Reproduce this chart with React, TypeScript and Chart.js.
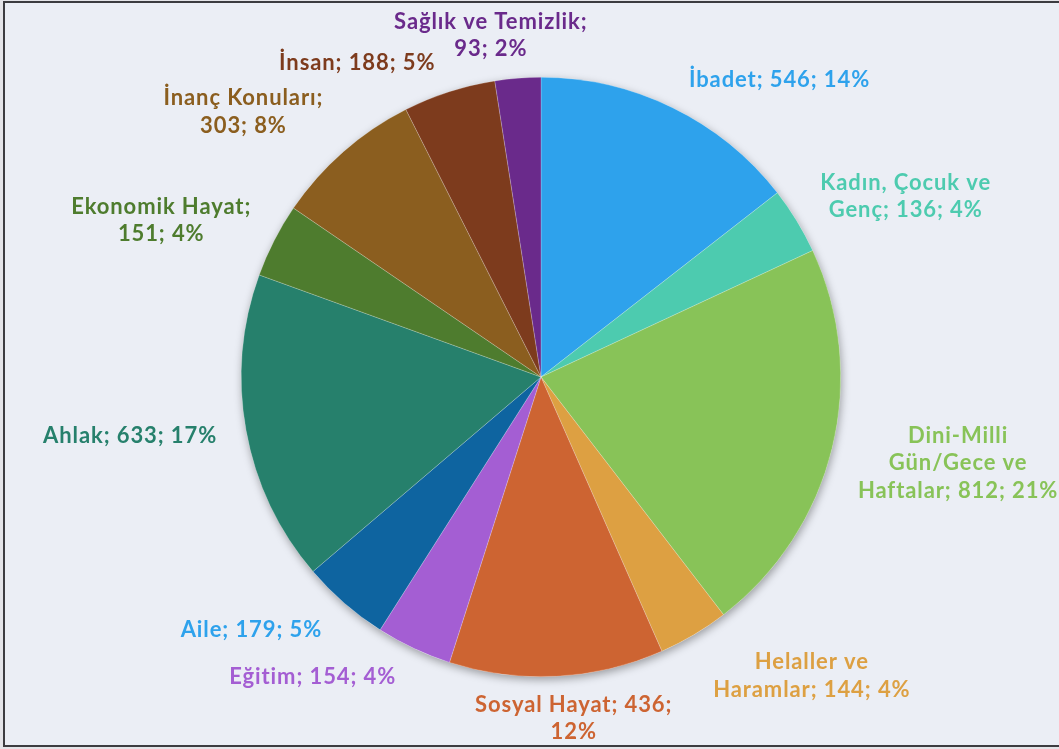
import React, { useEffect, useRef } from "react";
import { Chart, registerables } from "chart.js";

Chart.register(...registerables);

const categories = [
  "İbadet",
  "Kadın, Çocuk ve Genç",
  "Dini-Milli Gün/Gece ve Haftalar",
  "Helaller ve Haramlar",
  "Sosyal Hayat",
  "Eğitim",
  "Aile",
  "Ahlak",
  "Ekonomik Hayat",
  "İnanç Konuları",
  "İnsan",
  "Sağlık ve Temizlik",
];
const counts = [546, 136, 812, 144, 436, 154, 179, 633, 151, 303, 188, 93];
const percentLabels = ["14%", "4%", "21%", "4%", "12%", "4%", "5%", "17%", "4%", "8%", "5%", "2%"];

// label line breaks (text only)
const labelLines: string[][] = [
  ["İbadet; 546; 14%"],
  ["Kadın, Çocuk ve", "Genç; 136; 4%"],
  ["Dini-Milli", "Gün/Gece ve", "Haftalar; 812; 21%"],
  ["Helaller ve", "Haramlar; 144; 4%"],
  ["Sosyal Hayat; 436;", "12%"],
  ["Eğitim; 154; 4%"],
  ["Aile; 179; 5%"],
  ["Ahlak; 633; 17%"],
  ["Ekonomik Hayat;", "151; 4%"],
  ["İnanç Konuları;", "303; 8%"],
  ["İnsan; 188; 5%"],
  ["Sağlık ve Temizlik;", "93; 2%"],
];

const sliceColors = [
  "#2EA2EC", "#4DCBAF", "#88C358", "#DDA042", "#CD6432", "#A45ED3",
  "#0E64A0", "#26806C", "#4E7C2E", "#8B5E1F", "#7D3B1D", "#6A2A8B",
];
const labelColors = [
  "#2EA2EC", "#4DCBAF", "#88C358", "#DDA042", "#CD6432", "#A45ED3",
  "#2EA2EC", "#26806C", "#4E7C2E", "#8B5E1F", "#7D3B1D", "#6A2A8B",
];

// label nudges relative to the slice's outer mid point (layout only)
const labelNudge: [number, number][] = [
  [107, -28], [109, -24], [126, 15], [118, 41], [17, 42], [-101, 29],
  [-93, 27], [-116, 5], [-113, -20], [-100, -40], [-92, -29], [-27, -43],
];

const BG = "#EBEEF5";
const FONT = "bold 22px Lato, 'DejaVu Sans', sans-serif";
const LINE_H = 27.5;

const framePlugin = {
  id: "frame",
  beforeDraw(chart: any) {
    const ctx = chart.ctx;
    const w = chart.width;
    const h = chart.height;
    ctx.save();
    ctx.fillStyle = "#E4E4E8";
    ctx.fillRect(0, 0, w, h);
    ctx.fillStyle = BG;
    ctx.fillRect(4, 1, w - 4, h - 3);
    ctx.strokeStyle = "#3C3C40";
    ctx.lineWidth = 2;
    ctx.beginPath();
    ctx.moveTo(w, 2);
    ctx.lineTo(4, 2);
    ctx.lineTo(4, h - 3);
    ctx.lineTo(w, h - 3);
    ctx.stroke();
    ctx.restore();
  },
  beforeDatasetsDraw(chart: any) {
    const arc = chart.getDatasetMeta(0).data[0];
    if (!arc) return;
    const ctx = chart.ctx;
    ctx.save();
    ctx.shadowColor = "rgba(0,0,0,0.35)";
    ctx.shadowBlur = 9;
    ctx.shadowOffsetX = 1;
    ctx.shadowOffsetY = 3;
    ctx.fillStyle = BG;
    ctx.beginPath();
    ctx.arc(arc.x, arc.y, arc.outerRadius, 0, Math.PI * 2);
    ctx.fill();
    ctx.restore();
  },
};

const labelPlugin = {
  id: "sliceLabels",
  afterDatasetsDraw(chart: any) {
    const ctx = chart.ctx;
    const meta = chart.getDatasetMeta(0);
    ctx.save();
    ctx.font = FONT;
    try { (ctx as any).letterSpacing = "0.9px"; } catch (e) {}
    ctx.textAlign = "center";
    ctx.textBaseline = "middle";
    meta.data.forEach((arc: any, i: number) => {
      const mid = (arc.startAngle + arc.endAngle) / 2;
      const ex = arc.x + Math.cos(mid) * arc.outerRadius;
      const ey = arc.y + Math.sin(mid) * arc.outerRadius;
      const cx = ex + labelNudge[i][0];
      const cy = ey + labelNudge[i][1];
      const lines = labelLines[i];
      const top = cy - ((lines.length - 1) * LINE_H) / 2;
      ctx.fillStyle = labelColors[i];
      lines.forEach((ln, k) => ctx.fillText(ln, cx, top + k * LINE_H));
    });
    ctx.restore();
  },
};

export default function App() {
  const ref = useRef<HTMLCanvasElement | null>(null);
  useEffect(() => {
    if (!ref.current) return;
    const chart = new Chart(ref.current, {
      type: "pie",
      data: {
        labels: categories,
        datasets: [
          {
            data: counts,
            backgroundColor: sliceColors,
            borderColor: "rgba(255,255,255,0.35)",
            borderWidth: 0.6,
          },
        ],
      },
      options: {
        responsive: false,
        animation: false,
        layout: { padding: { top: 77, bottom: 72, left: 241, right: 218 } },
        plugins: {
          legend: { display: false },
          tooltip: { enabled: false },
        },
      },
      plugins: [framePlugin, labelPlugin],
    });
    return () => chart.destroy();
  }, []);
  return (
    <div style={{ position: "fixed", left: 0, top: 0, width: 1059, height: 749 }}>
      <canvas ref={ref} width={1059} height={749} style={{ display: "block", width: 1059, height: 749 }} />
    </div>
  );
}
